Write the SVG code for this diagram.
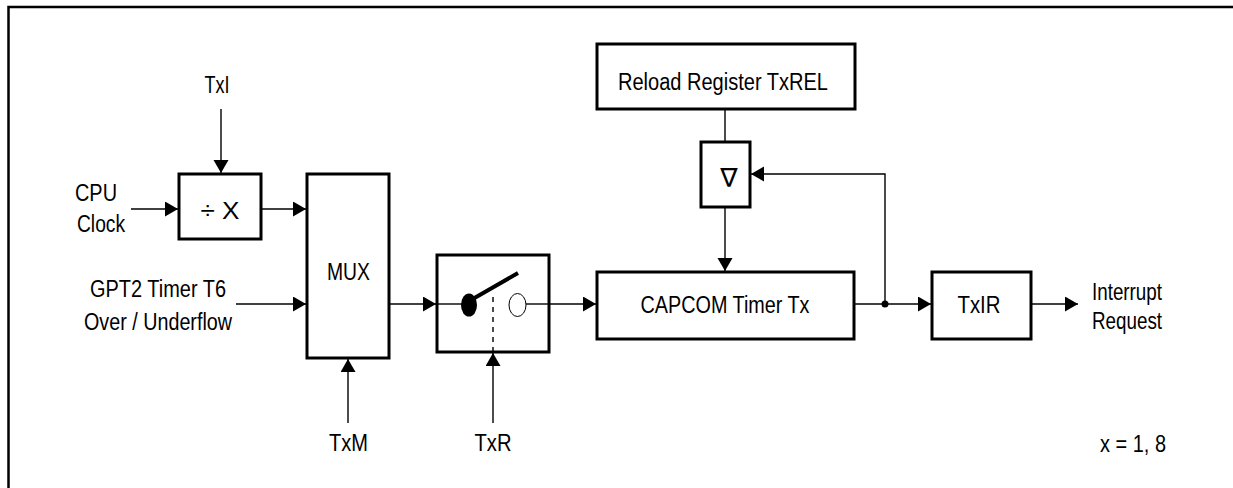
<svg xmlns="http://www.w3.org/2000/svg" width="1233" height="488" viewBox="0 0 1233 488">
<style>
.box{fill:#fff;stroke:#000;stroke-width:3}
.ln{fill:none;stroke:#000;stroke-width:1.4}
.t{font-family:"Liberation Sans",Arial,sans-serif;font-size:23px;fill:#000}
.c{text-anchor:middle}
</style>
<defs>
<marker id="ah" markerUnits="userSpaceOnUse" markerWidth="14" markerHeight="16" refX="13" refY="7.5" orient="auto">
<path d="M0,0 L13,7.5 L0,15 z" fill="#000"/>
</marker>
</defs>
<rect width="1233" height="488" fill="#fff"/>
<path d="M8.5,488 V7 H1233" fill="none" stroke="#000" stroke-width="2.5"/>

<g id="connectors">
<line class="ln" x1="221" y1="109" x2="221" y2="173" marker-end="url(#ah)"/>
<line class="ln" x1="131" y1="209" x2="178" y2="209" marker-end="url(#ah)"/>
<line class="ln" x1="261" y1="209" x2="306" y2="209" marker-end="url(#ah)"/>
<line class="ln" x1="236" y1="304" x2="306" y2="304" marker-end="url(#ah)"/>
<line class="ln" x1="348" y1="423" x2="348" y2="359" marker-end="url(#ah)"/>
<line class="ln" x1="389" y1="304" x2="436" y2="304" marker-end="url(#ah)"/>
<line class="ln" x1="493" y1="423" x2="493" y2="353" marker-end="url(#ah)"/>
<line class="ln" x1="549" y1="304" x2="596" y2="304" marker-end="url(#ah)"/>
<line class="ln" x1="725" y1="109" x2="725" y2="142"/>
<line class="ln" x1="725" y1="207" x2="725" y2="271" marker-end="url(#ah)"/>
<line class="ln" x1="854" y1="304" x2="931" y2="304" marker-end="url(#ah)"/>
<polyline class="ln" points="885,304 885,174 751,174" marker-end="url(#ah)"/>
<circle cx="885" cy="304" r="3.5" fill="#000"/>
<line class="ln" x1="1031" y1="304" x2="1078" y2="304" marker-end="url(#ah)"/>
</g>

<g id="label-txi"><text class="t c" x="217" y="93" textLength="25" lengthAdjust="spacingAndGlyphs">TxI</text></g>
<g id="label-cpu">
<text class="t" x="75" y="201" textLength="42" lengthAdjust="spacingAndGlyphs">CPU</text>
<text class="t" x="77" y="232" textLength="48" lengthAdjust="spacingAndGlyphs">Clock</text>
</g>
<g id="divider">
<rect class="box" x="179" y="174" width="82" height="65"/>
<text class="t c" x="220" y="219" textLength="39" lengthAdjust="spacingAndGlyphs">÷ X</text>
</g>
<g id="label-gpt2">
<text class="t c" x="158" y="297" textLength="136" lengthAdjust="spacingAndGlyphs">GPT2 Timer T6</text>
<text class="t c" x="158" y="330" textLength="148" lengthAdjust="spacingAndGlyphs">Over / Underflow</text>
</g>
<g id="mux">
<rect class="box" x="307" y="174" width="82" height="184"/>
<text class="t c" x="348.5" y="280" textLength="43" lengthAdjust="spacingAndGlyphs">MUX</text>
</g>
<g id="label-txm"><text class="t c" x="348.5" y="451" textLength="39" lengthAdjust="spacingAndGlyphs">TxM</text></g>
<g id="switch">
<rect class="box" x="437" y="255" width="112" height="97"/>
<line class="ln" x1="437" y1="304" x2="462" y2="304"/>
<ellipse cx="469" cy="305" rx="8" ry="11.5" fill="#000"/>
<line x1="471" y1="300" x2="518" y2="273" stroke="#000" stroke-width="4"/>
<line x1="493" y1="297" x2="493" y2="352" stroke="#000" stroke-width="1.4" stroke-dasharray="5,5"/>
<ellipse cx="517.5" cy="305" rx="8.5" ry="11.5" fill="#fff" stroke="#000" stroke-width="1"/>
<line class="ln" x1="526" y1="304" x2="549" y2="304"/>
</g>
<g id="label-txr"><text class="t c" x="493" y="451" textLength="37" lengthAdjust="spacingAndGlyphs">TxR</text></g>
<g id="reload">
<rect class="box" x="597" y="44" width="258" height="65"/>
<text class="t c" x="723" y="90" textLength="210" lengthAdjust="spacingAndGlyphs">Reload Register TxREL</text>
</g>
<g id="delta">
<rect class="box" x="701" y="142" width="49" height="65"/>
<text x="729" y="187" text-anchor="middle" font-family="DejaVu Sans,sans-serif" font-size="26">∇</text>
</g>
<g id="capcom">
<rect class="box" x="597" y="272" width="257" height="67"/>
<text class="t c" x="725" y="313" textLength="169" lengthAdjust="spacingAndGlyphs">CAPCOM Timer Tx</text>
</g>
<g id="txir">
<rect class="box" x="932" y="272" width="99" height="67"/>
<text class="t c" x="979" y="313" textLength="43" lengthAdjust="spacingAndGlyphs">TxIR</text>
</g>
<g id="label-interrupt">
<text class="t" x="1092" y="300" textLength="70" lengthAdjust="spacingAndGlyphs">Interrupt</text>
<text class="t" x="1092" y="329" textLength="70" lengthAdjust="spacingAndGlyphs">Request</text>
</g>
<g id="note"><text class="t" x="1100" y="452" textLength="66" lengthAdjust="spacingAndGlyphs">x = 1, 8</text></g>
</svg>
